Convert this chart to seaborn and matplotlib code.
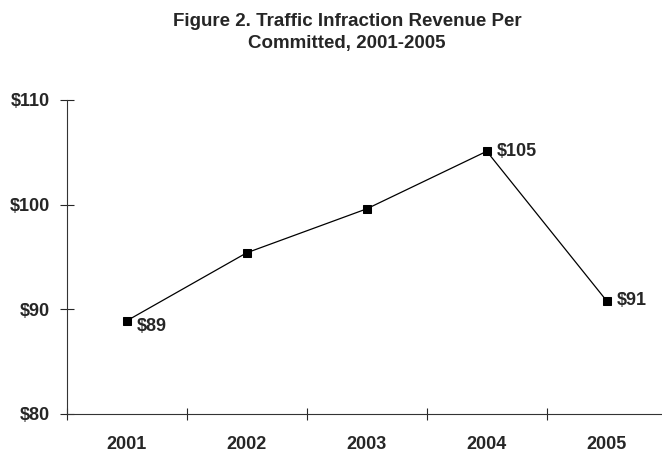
import matplotlib
matplotlib.use("Agg")
import matplotlib.pyplot as plt
import seaborn as sns
import pandas as pd

years = ["2001", "2002", "2003", "2004", "2005"]
revenue = [88.9, 95.4, 99.6, 105.1, 90.8]
point_labels = ["$89", "", "", "$105", "$91"]
y_ticks = [80, 90, 100, 110]
y_tick_labels = ["$80", "$90", "$100", "$110"]
title = "Figure 2. Traffic Infraction Revenue Per\nCommitted, 2001-2005"

sns.set_style("ticks")
plt.rcParams["font.family"] = ["Liberation Sans", "DejaVu Sans"]

df = pd.DataFrame({"year": years, "revenue": revenue})

fig = plt.figure(figsize=(6.62, 4.57), dpi=100)
ax = fig.add_axes([0.1007, 0.0941, 0.9065, 0.6871])

sns.lineplot(data=df, x="year", y="revenue", ax=ax, color="black",
             linewidth=0.9, marker="s", markersize=6, markeredgecolor="black",
             sort=False)

# value labels next to selected points
for i, (v, lab) in enumerate(zip(revenue, point_labels)):
    if not lab:
        continue
    dy = -4 if i == 0 else 0
    ax.annotate(lab, (i, v), xytext=(7, dy), textcoords="offset points",
                ha="left", va="center", fontsize=13, fontweight="bold")

ax.set_xlim(-0.5, len(years) - 0.5)
ax.set_ylim(80, 110)
ax.set_yticks(y_ticks)
ax.set_yticklabels(y_tick_labels, fontsize=13, fontweight="bold")
ax.set_xticks(range(len(years)))
ax.set_xticklabels(years, fontsize=13, fontweight="bold")
ax.set_xticks([i - 0.5 for i in range(len(years) + 1)], minor=True)
ax.tick_params(axis="x", which="major", length=0, pad=16)
ax.tick_params(axis="x", which="minor", direction="inout", length=9, width=0.8)
ax.tick_params(axis="y", which="major", direction="inout", length=9.5, width=0.8, pad=7)
ax.set_xlabel("")
ax.set_ylabel("")

sns.despine(ax=ax)
for s in ["left", "bottom"]:
    ax.spines[s].set_linewidth(0.8)
    ax.spines[s].set_color("#333333")

fig.text(0.524, 0.972, title, ha="center", va="top", fontsize=13.5,
         fontweight="bold", linespacing=1.38)

fig.savefig("out.png", dpi=100)
